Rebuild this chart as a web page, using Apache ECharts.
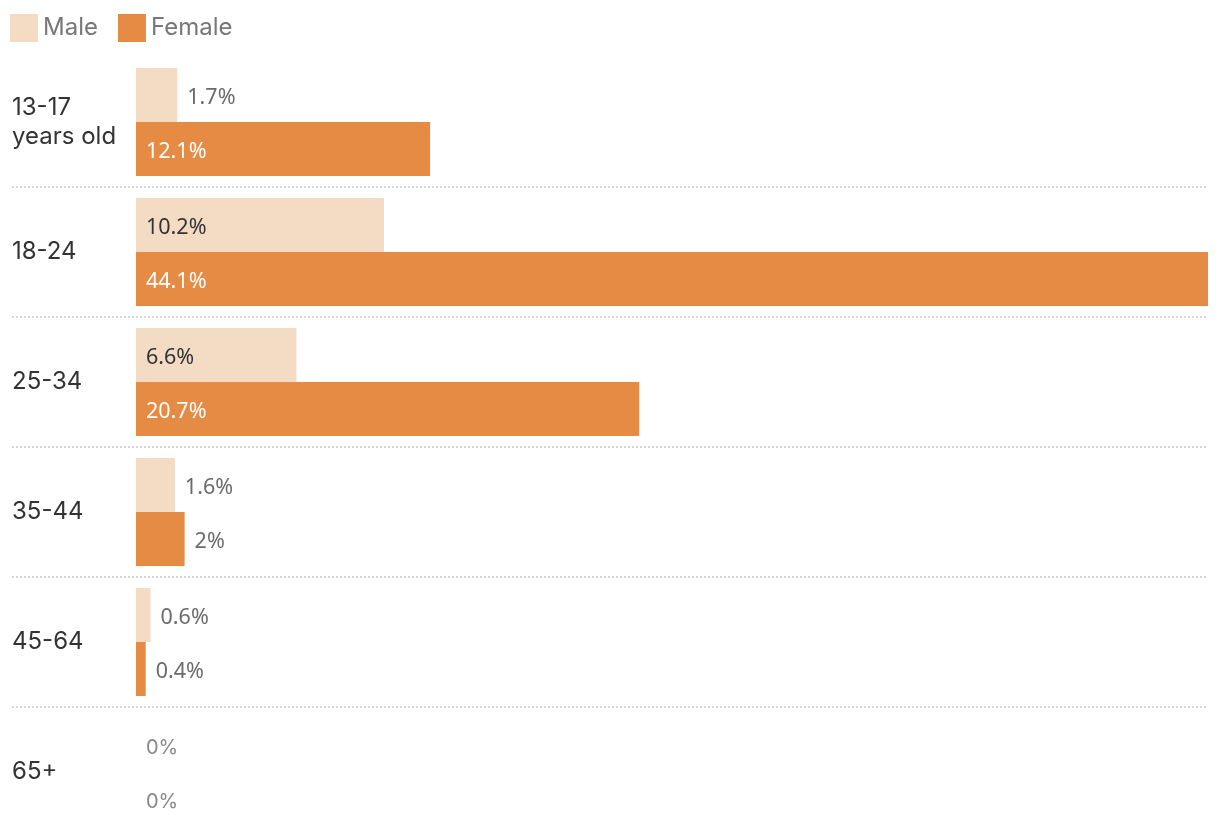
<!DOCTYPE html>
<html>
<head>
<meta charset="utf-8">
<script src="https://cdn.jsdelivr.net/npm/echarts@6/dist/echarts.min.js"></script>
<style>
html,body{margin:0;padding:0;background:#fff;}
#chart{width:1220px;height:838px;}
</style>
</head>
<body>
<div id="chart"></div>
<script>
const categories = ['13-17\nyears old', '18-24', '25-34', '35-44', '45-64', '65+'];
const seriesNames = ['Male', 'Female'];
const maleValues = [1.7, 10.2, 6.6, 1.6, 0.6, 0];
const femaleValues = [12.1, 44.1, 20.7, 2, 0.4, 0];

const MALE_COLOR = '#f3dbc4';
const FEMALE_COLOR = '#e58b44';
const INSIDE_THRESHOLD = 5;

function items(values, insideColor) {
  return values.map(function (v) {
    const inside = v >= INSIDE_THRESHOLD;
    return {
      value: v,
      label: {
        position: inside ? 'insideLeft' : 'right',
        distance: 10,
        offset: [0, 3],
        color: inside ? insideColor : (v === 0 ? '#888' : '#6b6b6b'),
        fontFamily: v === 0 ? 'Inter' : 'Noto Sans',
        fontSize: v === 0 ? 20 : 21.5
      }
    };
  });
}

const chart = echarts.init(document.getElementById('chart'), null, {renderer: 'canvas'});
chart.setOption({
  animation: false,
  backgroundColor: '#fff',
  legend: {
    left: 10,
    top: 14,
    padding: 0,
    icon: 'rect',
    itemWidth: 28,
    itemHeight: 28,
    itemGap: 20,
    textStyle: {fontSize: 24, color: '#777', fontFamily: 'Inter'},
    data: seriesNames
  },
  grid: {left: 12, right: 12, top: 57, bottom: 1, containLabel: false},
  xAxis: {
    type: 'value',
    min: -5.1,
    max: 44.1,
    show: false
  },
  yAxis: {
    type: 'category',
    data: categories,
    inverse: true,
    axisLine: {show: false},
    axisTick: {show: false},
    axisLabel: {
      inside: true,
      margin: 0,
      align: 'left',
      fontSize: 24,
      lineHeight: 29,
      color: '#333',
      fontFamily: 'Inter',
      padding: [4, 0, 0, 0]
    },
    splitLine: {
      show: true,
      showMinLine: false,
      showMaxLine: false,
      lineStyle: {color: '#d6d6d6', width: 2, type: [2, 2]}
    }
  },
  series: [
    {
      name: seriesNames[0],
      type: 'bar',
      barWidth: 54,
      barGap: '0%',
      itemStyle: {color: MALE_COLOR},
      label: {show: true, formatter: function (p) { return p.value + '%'; }},
      data: items(maleValues, '#333')
    },
    {
      name: seriesNames[1],
      type: 'bar',
      barWidth: 54,
      barGap: '0%',
      itemStyle: {color: FEMALE_COLOR},
      label: {show: true, formatter: function (p) { return p.value + '%'; }},
      data: items(femaleValues, '#fff')
    }
  ]
});
</script>
</body>
</html>
